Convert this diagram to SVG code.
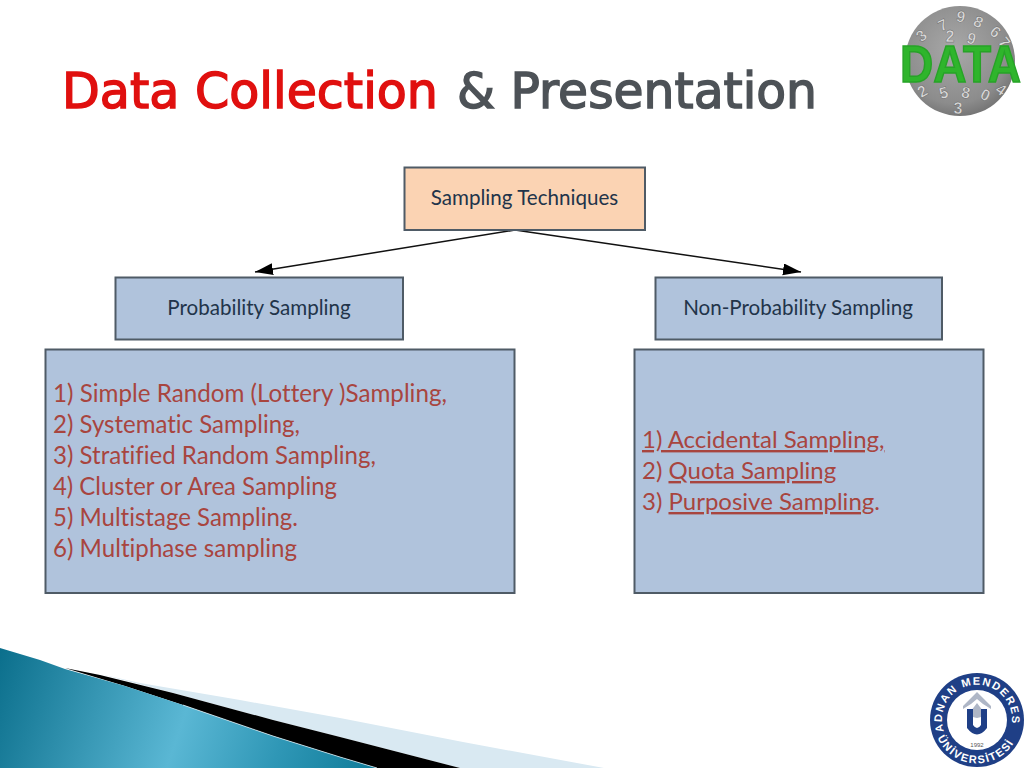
<svg xmlns="http://www.w3.org/2000/svg" width="1024" height="768" viewBox="0 0 1024 768">
<style>
.box{stroke:#4f5b66;stroke-width:2}
.blue{fill:#b0c3dc}
.head{font-family:"Lato","Open Sans",sans-serif;font-size:20.6px;fill:#22344a;text-anchor:middle;font-variant-ligatures:none}
.item{font-family:"Lato","Open Sans",sans-serif;font-size:24.5px;fill:#a8453f;font-variant-ligatures:none}
.np{font-size:24px}
.title{font-family:"DejaVu Sans",sans-serif;font-size:50px;stroke-width:1.500}
.dig{font-family:"Liberation Sans",sans-serif;font-size:16px;font-weight:700;fill:#d9d9d9;stroke:#5c5c5c;stroke-width:.4;text-anchor:middle}
.seal{font-family:"Liberation Sans",sans-serif;font-weight:700;fill:#fff;font-size:11px}
</style>
<defs>
<marker id="arr" markerUnits="userSpaceOnUse" markerWidth="20" markerHeight="14" refX="18" refY="6" orient="auto"><path d="M0 0L18 6L0 12Z" fill="#000"/></marker>
<linearGradient id="teal" x1="0" y1="640" x2="377" y2="768" gradientUnits="userSpaceOnUse"><stop offset="0" stop-color="#0a6e8b"/><stop offset=".5" stop-color="#5ab7d4"/><stop offset=".75" stop-color="#2f97b6"/><stop offset="1" stop-color="#0f7b98"/></linearGradient>
<radialGradient id="ball" cx=".45" cy=".4" r=".65"><stop offset="0" stop-color="#a8a8a8"/><stop offset=".75" stop-color="#8c8c8c"/><stop offset="1" stop-color="#6e6e6e"/></radialGradient>
<path id="sealTop" d="M946 736A35 35 0 1 1 1008 736"/>
<path id="sealBot" d="M936 734A43.300 43.300 0 0 0 1018 734"/>
</defs>
<rect width="1024" height="768" fill="#fff"/>
<g id="swoosh">
<path d="M100 674L140 683L240 700L340 718L463 742L604 768H460L340 737L273 720L173 693Z" fill="#d9e9f2"/>
<path d="M65 668L100 675L173 693L273 720L340 737L460 768H377L340 757L273 736L183 705L125 686Z" fill="#000"/>
<path d="M0 648L40 660L65 669L125 686L183 705L273 736L340 757L377 768H0Z" fill="url(#teal)"/>
<path d="M183 705L273 736L340 757L377 768" fill="none" stroke="#e4f1f6" stroke-width=".7"/>
</g>
<g id="title">
<text class="title" x="62" y="108" fill="#e0100f" stroke="#e0100f" textLength="376" lengthAdjust="spacingAndGlyphs">Data Collection</text>
<text class="title" x="457" y="108" fill="#4d5257" stroke="#4d5257" textLength="360" lengthAdjust="spacingAndGlyphs">&amp; Presentation</text>
</g>
<g id="data-logo">
<circle cx="960" cy="61" r="55" fill="url(#ball)"/>
<text class="dig" x="945" y="30" transform="rotate(-25 945 30)">7</text><text class="dig" x="960" y="22" transform="rotate(10 960 22)">9</text><text class="dig" x="976" y="27" transform="rotate(25 976 27)">8</text><text class="dig" x="992" y="36" transform="rotate(40 992 36)">6</text><text class="dig" x="925" y="40" transform="rotate(-40 925 40)">3</text><text class="dig" x="950" y="42">2</text><text class="dig" x="970" y="44" transform="rotate(15 970 44)">9</text><text class="dig" x="1000" y="46" transform="rotate(50 1000 46)">7</text><text class="dig" x="945" y="98" transform="rotate(-15 945 98)">5</text><text class="dig" x="965" y="98" transform="rotate(10 965 98)">8</text><text class="dig" x="983" y="100" transform="rotate(25 983 100)">0</text><text class="dig" x="925" y="96" transform="rotate(-30 925 96)">2</text><text class="dig" x="958" y="114">3</text><text class="dig" x="998" y="94" transform="rotate(35 998 94)">4</text>
<text x="900" y="81.500" textLength="121" lengthAdjust="spacingAndGlyphs" style="font-family:'Liberation Sans',sans-serif;font-weight:700;font-size:51px;fill:#2fb52c;stroke:#27a327;stroke-width:1.500">DATA</text>
</g>
<g id="connectors" fill="none" stroke="#111" stroke-width="1.500">
<path d="M515 230L255 272" marker-end="url(#arr)"/>
<path d="M515 230L801 272" marker-end="url(#arr)"/>
</g>
<g id="sampling-techniques">
<rect class="box" x="404.500" y="167.500" width="240.500" height="62.500" fill="#fbd3b3"/>
<text class="head" x="524.500" y="205">Sampling Techniques</text>
</g>
<g id="probability">
<rect class="box blue" x="115.500" y="277.500" width="287.500" height="62"/>
<text class="head" x="259" y="315">Probability Sampling</text>
</g>
<g id="non-probability">
<rect class="box blue" x="655.500" y="277.500" width="286.500" height="62"/>
<text class="head" x="798" y="315">Non-Probability Sampling</text>
</g>
<g id="probability-list">
<rect class="box blue" x="45.500" y="349.500" width="469" height="243.500"/>
<text class="item" x="53" y="402" textLength="394" lengthAdjust="spacingAndGlyphs">1) Simple Random (Lottery )Sampling,</text>
<text class="item" x="53" y="432.500" textLength="247" lengthAdjust="spacingAndGlyphs">2) Systematic Sampling,</text>
<text class="item" x="53" y="463.500" textLength="323" lengthAdjust="spacingAndGlyphs">3) Stratified Random Sampling,</text>
<text class="item" x="53" y="494.500" textLength="284" lengthAdjust="spacingAndGlyphs">4) Cluster or Area Sampling</text>
<text class="item" x="53" y="525.500" textLength="245" lengthAdjust="spacingAndGlyphs">5) Multistage Sampling.</text>
<text class="item" x="53" y="556.500" textLength="244" lengthAdjust="spacingAndGlyphs">6) Multiphase sampling</text>
</g>
<g id="non-probability-list">
<rect class="box blue" x="634.500" y="349.500" width="349" height="243.500"/>
<text class="item np" x="642" y="448" text-decoration="underline">1) Accidental Sampling,</text>
<text class="item np" x="642" y="479">2) <tspan text-decoration="underline">Quota Sampling</tspan></text>
<text class="item np" x="642" y="510">3) <tspan text-decoration="underline">Purposive Sampling</tspan>.</text>
</g>
<g id="university-seal">
<circle cx="977" cy="720" r="47" fill="#1f3f86"/>
<circle cx="977" cy="720" r="30" fill="#fff"/>
<text class="seal" letter-spacing="1.500"><textPath href="#sealTop" startOffset="5">ADNAN MENDERES</textPath></text>
<text class="seal" letter-spacing="1.500"><textPath href="#sealBot" startOffset="4">ÜNİVERSİTESİ</textPath></text>
<path d="M963 706L977 692L991 706V709L983 704L977 699L971 704L963 709Z" fill="#aeb6c6"/>
<path d="M977 703L983 711Q985 717 977 718Q969 717 971 711Z" fill="#aeb6c6"/>
<path d="M967 709H973V725Q977 731 981 725V709H987V728Q977 741 967 728Z" fill="#1f3f86"/>
<text x="977" y="747" text-anchor="middle" style="font-family:'Liberation Sans',sans-serif;font-size:6px;fill:#555">1992</text>
</g>
</svg>
